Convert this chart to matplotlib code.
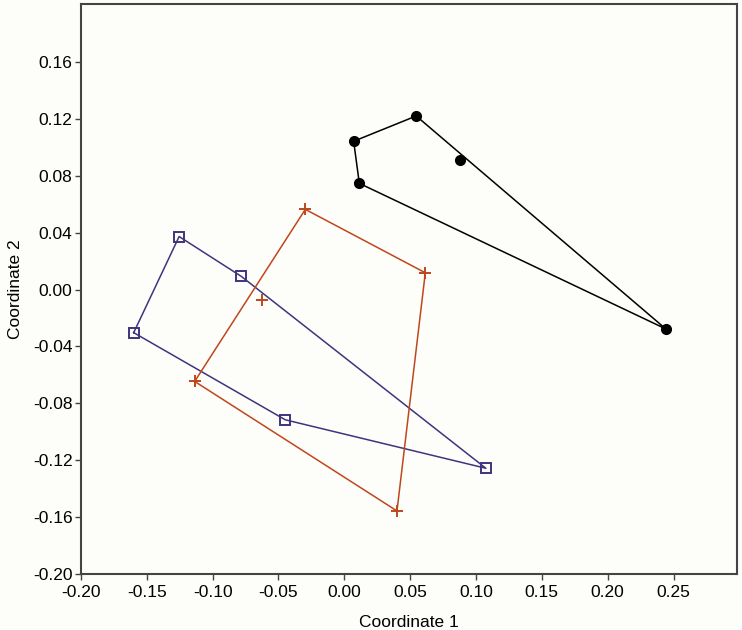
import matplotlib
matplotlib.use("Agg")
import matplotlib.pyplot as plt
import numpy as np

plt.rcParams["font.family"] = ["Liberation Sans", "DejaVu Sans"]

# Coordinates (three groups)
black_x = [0.0546, 0.0071, 0.0114, 0.0880, 0.2441]
black_y = [0.1221, 0.1043, 0.0747, 0.0914, -0.0277]

purple_x = [-0.1254, -0.0781, -0.1599, -0.0448, 0.1075]
purple_y = [0.0373, 0.0092, -0.0303, -0.0916, -0.1257]

orange_x = [-0.0296, 0.0615, -0.0624, -0.1136, 0.0400]
orange_y = [0.0564, 0.0118, -0.0073, -0.0646, -0.1557]

x_ticks = [-0.20, -0.15, -0.10, -0.05, 0.00, 0.05, 0.10, 0.15, 0.20, 0.25]
y_ticks = [-0.20, -0.16, -0.12, -0.08, -0.04, 0.00, 0.04, 0.08, 0.12, 0.16]


def convex_hull(xs, ys):
    # monotone chain, returns closed polygon
    pts = sorted(zip(xs, ys))

    def cross(o, a, b):
        return (a[0] - o[0]) * (b[1] - o[1]) - (a[1] - o[1]) * (b[0] - o[0])

    lower = []
    for p in pts:
        while len(lower) >= 2 and cross(lower[-2], lower[-1], p) <= 0:
            lower.pop()
        lower.append(p)
    upper = []
    for p in reversed(pts):
        while len(upper) >= 2 and cross(upper[-2], upper[-1], p) <= 0:
            upper.pop()
        upper.append(p)
    hull = lower[:-1] + upper[:-1]
    hull.append(hull[0])
    return np.array(hull)


fig = plt.figure(figsize=(7.42, 6.30), dpi=100)
fig.patch.set_facecolor("#fdfdfa")
ax = fig.add_axes([0.109, 0.089, 0.884, 0.905])
ax.set_facecolor("#fdfdfa")

groups = [
    (black_x, black_y, "black", dict(marker="o", markersize=7, markerfacecolor="black", markeredgecolor="black")),
    (purple_x, purple_y, "#3f347e", dict(marker="s", markersize=7.5, markerfacecolor="none", markeredgecolor="#3f347e", markeredgewidth=1.4)),
    (orange_x, orange_y, "#c0461c", dict(marker="+", markersize=8, markeredgecolor="#c0461c", markeredgewidth=1.4)),
]

for xs, ys, col, mk in groups:
    hull = convex_hull(xs, ys)
    ax.plot(hull[:, 0], hull[:, 1], color=col, lw=1.1, zorder=2)
    ax.plot(xs, ys, linestyle="none", zorder=3, **mk)

ax.set_xlim(-0.20, 0.298)
ax.set_ylim(-0.20, 0.201)
ax.set_xticks(x_ticks)
ax.set_xticklabels(["%.2f" % t for t in x_ticks])
ax.set_yticks(y_ticks)
ax.set_yticklabels(["%.2f" % t for t in y_ticks])

ax.tick_params(axis="both", direction="out", length=4, width=1, color="#444444",
               labelsize=12.5)
ax.tick_params(axis="x", pad=4)
ax.tick_params(axis="y", pad=2)
for s in ax.spines.values():
    s.set_color("#444444")
    s.set_linewidth(1.5)

ax.set_xlabel("Coordinate 1", fontsize=12.5, labelpad=11)
ax.set_ylabel("Coordinate 2", fontsize=12.5, labelpad=7)

fig.savefig("out.png", dpi=100, facecolor=fig.get_facecolor())
